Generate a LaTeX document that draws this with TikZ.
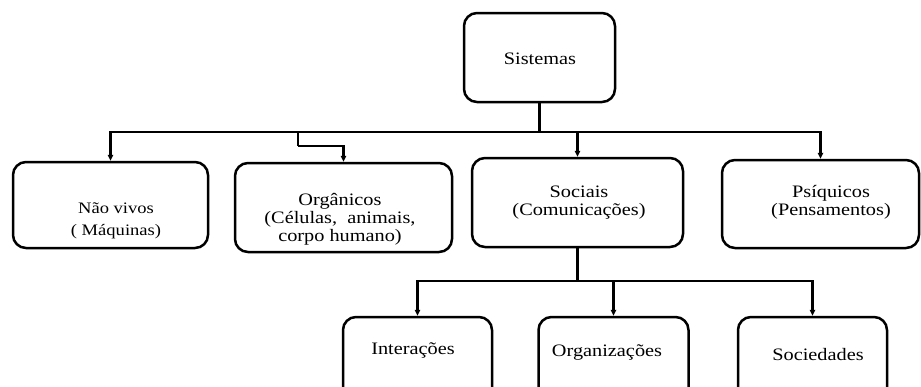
\documentclass[tikz,border=0pt]{standalone}
\usepackage{fontspec}
\setmainfont{Liberation Serif}[FakeStretch=1.16]
\usetikzlibrary{arrows.meta}
\tikzset{
  box/.style={draw, line width=2.5pt, rounded corners=13pt, inner sep=0pt},
  lbl/.style={align=center, font=\fontsize{17.5}{18}\selectfont, inner sep=0pt},
  link/.style={line width=2.1pt},
  arr/.style={link, -{Triangle[length=6pt,width=5.5pt]}}
}
\begin{document}
\begin{tikzpicture}[x=1pt,y=-1pt]
\useasboundingbox (0,0) rectangle (921,386);
\clip (0,0) rectangle (921,386);

% boxes
\node[box, minimum width=151pt, minimum height=89pt] (sis)  at (539.5,57.5) {};
\node[box, minimum width=195pt, minimum height=86pt] (nv)   at (110.5,205) {};
\node[box, minimum width=217pt, minimum height=89pt] (org)  at (343.5,207.5) {};
\node[box, minimum width=211pt, minimum height=89pt] (soc)  at (577.5,202.5) {};
\node[box, minimum width=197pt, minimum height=88pt] (psi)  at (820.5,204) {};
\node[box, minimum width=149pt, minimum height=84pt] (int)  at (417.5,359) {};
\node[box, minimum width=150pt, minimum height=84pt] (orz)  at (613.5,359) {};
\node[box, minimum width=149pt, minimum height=84pt] (scd)  at (812.5,359) {};

% texts
\node[lbl] (sis-t) at (540,59) {Sistemas};
\node[lbl, font=\fontsize{16}{18}\selectfont] (nv-t) at (116,221) {Não vivos\\[4pt]( Máquinas)};
\node[lbl] (org-t) at (340,219) {Orgânicos\\(Células,\ \ animais,\\corpo humano)};
\node[lbl] (soc-t) at (579,203) {Sociais\\(Comunicações)};
\node[lbl] (psi-t) at (831,202) {Psíquicos\\(Pensamentos)};
\node[lbl] (int-t) at (413,350) {Interações};
\node[lbl] (orz-t) at (607,352) {Organizações};
\node[lbl] (scd-t) at (818,355) {Sociedades};

% first level connectors
\coordinate (bus) at (539.5,132);
\coordinate (jogA) at (298,132);
\coordinate (jogB) at (298,146);
\draw[link] (sis.south) -- (bus);
\draw[arr] (bus) -| (nv.north);
\draw[arr] (bus) -| (psi.north);
\draw[arr] (soc.north |- bus) -- (soc.north);
\draw[link] (jogA) -- (jogB);
\draw[arr] (jogB) -| (org.north);

% second level connectors
\coordinate (bus2) at (577.5,281);
\draw[link] (soc.south) -- (bus2);
\draw[arr] (bus2) -| (int.north);
\draw[arr] (bus2) -| (orz.north);
\draw[arr] (bus2) -| (scd.north);
\end{tikzpicture}
\end{document}
